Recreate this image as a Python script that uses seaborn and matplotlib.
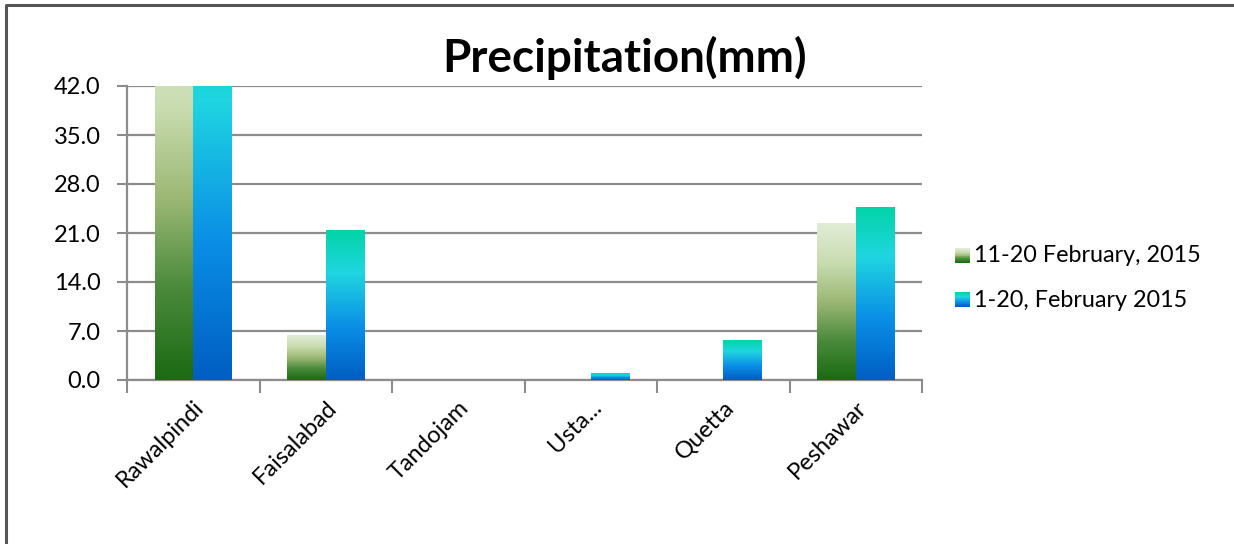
import numpy as np
import pandas as pd
import matplotlib
matplotlib.use("Agg")
import matplotlib.pyplot as plt
import seaborn as sns
from matplotlib.colors import LinearSegmentedColormap
from matplotlib.patches import Rectangle
from matplotlib.lines import Line2D
from matplotlib.legend_handler import HandlerBase

# ==========================================
# Data
# ==========================================

cities = ["Rawalpindi", "Faisalabad", "Tandojam", "Usta...", "Quetta", "Peshawar"]
series_names = ["11-20 February, 2015", "1-20, February 2015"]
# Rawalpindi bars run past the 42.0 axis top (clipped in the chart)
feb_11_20 = [52.0, 6.4, 0.0, 0.0, 0.0, 22.4]
feb_1_20 = [56.0, 21.4, 0.0, 1.0, 5.7, 24.6]
y_ticks = [0, 7, 14, 21, 28, 35, 42]

df = pd.DataFrame({
    "city": cities * 2,
    "series": [series_names[0]] * len(cities) + [series_names[1]] * len(cities),
    "value": feb_11_20 + feb_1_20,
})

# gradients (bottom -> top)
green_cmap = LinearSegmentedColormap.from_list(
    "g", ["#1b6a14", "#4a8a3a", "#9cb874", "#c9dcb0", "#e2ecd6"])
blue_cmap = LinearSegmentedColormap.from_list(
    "b", [(0.0, "#005ec2"), (0.35, "#0a8ee6"), (0.72, "#1fd6e0"), (1.0, "#02d4a6")])
cmaps = [green_cmap, blue_cmap]

plt.rcParams["font.family"] = ["Lato", "DejaVu Sans"]

fig = plt.figure(figsize=(12.34, 5.44), dpi=100)
ax = fig.add_axes([127 / 1234, 1 - 380 / 544, (922 - 127) / 1234, (380 - 86) / 544])

sns.barplot(data=df, x="city", y="value", hue="series", order=cities,
            hue_order=series_names, width=0.58, ax=ax, legend=False,
            saturation=1, edgecolor="none")

grad = np.linspace(0, 1, 256).reshape(-1, 1)
n = len(cities)
for i, patch in enumerate(ax.patches):
    cmap = cmaps[i // n]
    x0, y0 = patch.get_x(), patch.get_y()
    w, h = patch.get_width(), patch.get_height()
    patch.set_visible(False)
    if h <= 0:
        continue
    ax.imshow(grad, cmap=cmap, origin="lower", aspect="auto",
              extent=[x0, x0 + w, y0, y0 + h], zorder=3, interpolation="bilinear")

ax.set_xlim(-0.5, n - 0.5)
ax.set_ylim(0, 42)
ax.set_yticks(y_ticks)
ax.set_yticklabels([f"{v:.1f}" for v in y_ticks], fontsize=17)
ax.set_xticks(np.arange(n))
ax.set_xticklabels(cities, rotation=45, ha="right", va="top",
                   rotation_mode="anchor", fontsize=17)
ax.tick_params(axis="x", length=0, pad=12)
ax.set_xticks(np.arange(n + 1) - 0.5, minor=True)
ax.tick_params(axis="x", which="minor", length=9, width=1.5, color="#8c8c8c")
ax.tick_params(axis="y", length=7, width=1.5, color="#8c8c8c", pad=12)
ax.set_xlabel("")
ax.set_ylabel("")

ax.set_facecolor("white")
ax.grid(axis="y", color="#8c8c8c", linewidth=1.6, zorder=0)
ax.set_axisbelow(True)
for s in ["top", "right"]:
    ax.spines[s].set_visible(False)
for s in ["left", "bottom"]:
    ax.spines[s].set_color("#8c8c8c")
    ax.spines[s].set_linewidth(1.6)

fig.text(625 / 1234, 1 - 58 / 544, "Precipitation(mm)", ha="center", va="center",
         fontsize=33, fontweight="bold")


# legend with gradient swatches
class GradientHandler(HandlerBase):
    def __init__(self, cmap):
        super().__init__()
        self.cmap = cmap

    def create_artists(self, legend, orig_handle, xdescent, ydescent,
                       width, height, fontsize, trans):
        size = height * 0.9
        x = xdescent + width - size
        y = -ydescent + (height - size) / 2 - 1
        steps = 16
        arts = []
        for k in range(steps):
            r = Rectangle((x, y + size * k / steps), size, size / steps + 0.3,
                          facecolor=self.cmap(k / (steps - 1)), edgecolor="none",
                          transform=trans)
            arts.append(r)
        return arts


handles = [Rectangle((0, 0), 1, 1), Rectangle((0, 0), 1, 1)]
ax.legend(handles, series_names,
          handler_map={handles[0]: GradientHandler(green_cmap),
                       handles[1]: GradientHandler(blue_cmap)},
          loc="center left", bbox_to_anchor=(944 / 1234, 1 - 278 / 544),
          bbox_transform=fig.transFigure, frameon=False, fontsize=16.8,
          handlelength=0.6, handletextpad=0.2, labelspacing=1.0,
          borderpad=0)

# outer chart border (top and left edges only)
bx, by = 6 / 1234, 1 - 5 / 544
fig.lines.append(Line2D([bx, bx, 1.0], [0.0, by, by], transform=fig.transFigure,
                        color="#555555", linewidth=2.2))

fig.savefig("out.png", dpi=100, facecolor="white")
